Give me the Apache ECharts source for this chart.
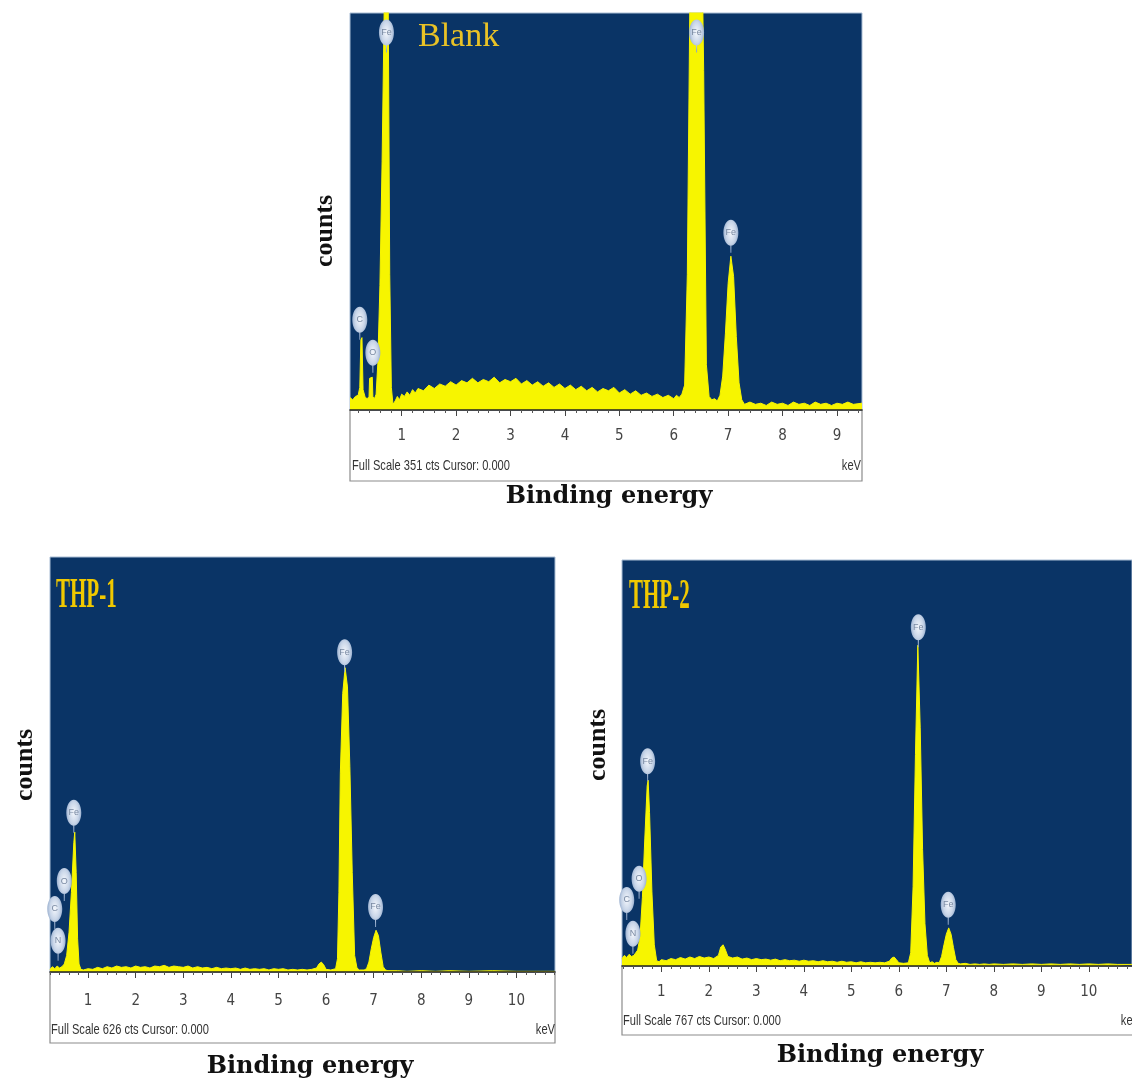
<!DOCTYPE html>
<html>
<head>
<meta charset="utf-8">
<script src="https://cdn.jsdelivr.net/npm/echarts@6/dist/echarts.min.js"></script>
<style>
html,body{margin:0;padding:0;background:#fff;}
#chart{width:1132px;height:1078px;}
</style>
</head>
<body>
<div id="chart"></div>
<script>
// ---------- DATA ----------
var panelTitles = ['Blank', 'THP-1', 'THP-2'];
var fullScales = [351, 626, 767];
var majorTicksTop = [1, 2, 3, 4, 5, 6, 7, 8, 9];
var majorTicksBottom = [1, 2, 3, 4, 5, 6, 7, 8, 9, 10];

// Blank spectrum: [keV, counts]
var blankSpectrum = [[0.05,11],[0.10,9],[0.15,12],[0.20,13],[0.23,20],[0.25,62],[0.27,64],[0.29,18],[0.33,11],[0.37,10],[0.40,12],[0.41,28],[0.46,29],[0.47,12],[0.50,10],[0.53,14],[0.56,40],[0.60,110],[0.64,220],[0.68,360],[0.72,480],[0.75,380],[0.78,120],[0.81,20],[0.84,5],[0.88,8],[0.92,12],[0.96,9],[1.00,14],[1.05,12],[1.10,16],[1.15,13],[1.20,18],[1.25,15],[1.30,19],[1.40,17],[1.50,22],[1.60,19],[1.70,23],[1.80,21],[1.90,25],[2.00,22],[2.10,26],[2.20,24],[2.30,28],[2.40,24],[2.50,27],[2.60,25],[2.70,29],[2.80,24],[2.90,27],[3.00,25],[3.10,28],[3.20,23],[3.30,26],[3.40,22],[3.50,25],[3.60,21],[3.70,24],[3.80,20],[3.90,23],[4.00,19],[4.10,22],[4.20,18],[4.30,21],[4.40,17],[4.50,20],[4.60,16],[4.70,19],[4.80,17],[4.90,20],[5.00,15],[5.10,18],[5.20,14],[5.30,17],[5.40,13],[5.50,15],[5.60,12],[5.70,14],[5.80,11],[5.90,13],[6.00,10],[6.05,13],[6.10,11],[6.15,14],[6.20,22],[6.25,120],[6.30,380],[6.35,700],[6.40,850],[6.45,760],[6.50,480],[6.55,300],[6.60,40],[6.65,12],[6.70,9],[6.75,10],[6.80,8],[6.85,13],[6.90,30],[6.95,68],[7.00,112],[7.05,136],[7.10,118],[7.15,65],[7.20,24],[7.25,9],[7.30,5],[7.40,7],[7.50,5],[7.60,6],[7.70,4],[7.80,7],[7.90,5],[8.00,6],[8.10,4],[8.20,7],[8.30,5],[8.40,6],[8.50,4],[8.60,7],[8.70,5],[8.80,6],[8.90,4],[9.00,6],[9.10,5],[9.20,7],[9.30,5],[9.46,6]];

// THP-1 spectrum
var thp1Spectrum = [[0.20,4],[0.25,8],[0.30,5],[0.35,9],[0.40,6],[0.45,8],[0.50,12],[0.55,25],[0.60,60],[0.65,120],[0.70,195],[0.72,211],[0.75,150],[0.78,50],[0.81,12],[0.85,4],[0.90,3],[1.00,5],[1.10,4],[1.20,7],[1.30,5],[1.40,8],[1.50,6],[1.60,9],[1.70,7],[1.80,8],[1.90,6],[2.00,9],[2.10,7],[2.20,8],[2.30,6],[2.40,9],[2.50,8],[2.60,10],[2.70,7],[2.80,9],[2.90,8],[3.00,7],[3.10,9],[3.20,6],[3.30,8],[3.40,6],[3.50,7],[3.60,5],[3.70,7],[3.80,5],[3.90,6],[4.00,5],[4.10,6],[4.20,4],[4.30,6],[4.40,4],[4.50,5],[4.60,4],[4.70,5],[4.80,3],[4.90,5],[5.00,4],[5.10,5],[5.20,3],[5.30,4],[5.40,3],[5.50,4],[5.60,3],[5.70,4],[5.80,6],[5.85,12],[5.90,15],[5.95,11],[6.00,4],[6.10,3],[6.20,5],[6.24,20],[6.27,120],[6.30,300],[6.35,420],[6.40,459],[6.45,430],[6.50,310],[6.55,150],[6.60,25],[6.65,6],[6.70,3],[6.80,3],[6.85,5],[6.90,15],[6.95,35],[7.00,52],[7.05,63],[7.10,55],[7.15,30],[7.20,8],[7.25,3],[7.30,2],[7.50,2],[7.70,1],[8.00,2],[8.30,1],[8.60,2],[9.00,1],[9.50,2],[10.00,1],[10.50,1],[10.81,1]];

// THP-2 spectrum
var thp2Spectrum = [[0.17,14],[0.22,20],[0.27,16],[0.32,22],[0.37,18],[0.42,20],[0.45,18],[0.50,30],[0.55,55],[0.60,130],[0.65,240],[0.70,340],[0.72,351],[0.75,290],[0.80,140],[0.85,40],[0.90,10],[0.95,8],[1.00,12],[1.10,10],[1.20,14],[1.30,12],[1.40,16],[1.50,13],[1.60,17],[1.70,14],[1.80,18],[1.90,15],[2.00,17],[2.10,14],[2.20,20],[2.25,36],[2.30,40],[2.35,30],[2.40,18],[2.50,15],[2.60,17],[2.70,13],[2.80,15],[2.90,12],[3.00,14],[3.10,12],[3.20,13],[3.30,11],[3.40,13],[3.50,10],[3.60,12],[3.70,10],[3.80,11],[3.90,9],[4.00,11],[4.10,9],[4.20,10],[4.30,8],[4.40,10],[4.50,8],[4.60,9],[4.70,7],[4.80,9],[4.90,7],[5.00,8],[5.10,6],[5.20,8],[5.30,6],[5.40,7],[5.50,6],[5.60,7],[5.70,6],[5.80,9],[5.85,15],[5.90,17],[5.95,12],[6.00,6],[6.10,5],[6.20,6],[6.25,25],[6.30,150],[6.35,400],[6.40,606],[6.45,450],[6.50,220],[6.55,80],[6.60,20],[6.65,6],[6.70,8],[6.75,5],[6.80,7],[6.85,6],[6.90,18],[6.95,40],[7.00,60],[7.05,72],[7.10,60],[7.15,35],[7.20,12],[7.25,5],[7.30,4],[7.40,5],[7.50,3],[7.60,4],[7.70,3],[7.80,4],[7.90,3],[8.00,4],[8.20,3],[8.40,4],[8.60,3],[8.80,4],[9.00,3],[9.20,4],[9.40,3],[9.60,4],[9.80,3],[10.00,4],[10.20,3],[10.40,4],[10.60,3],[10.91,3]];

// Element tags: [element, keV, counts at tag stem]
var blankTags = [['C',0.23,62],['O',0.47,33],['Fe',0.72,316],['Fe',6.42,316],['Fe',7.05,139]];
var thp1Tags = [['O',0.50,107],['C',0.30,65],['N',0.37,17],['Fe',0.70,210],['Fe',6.39,452],['Fe',7.04,68]];
var thp2Tags = [['O',0.53,127],['C',0.27,87],['N',0.40,23],['Fe',0.71,349],['Fe',6.41,602],['Fe',7.04,78]];

// ---------- CHART ----------
var NAVY = '#0a3466';
var YELLOW = '#f7f500';
var bubblePath = 'path://M7.5,0 C11.64,0 15,5.82 15,13 C15,20.18 11.64,26 7.5,26 C3.36,26 0,20.18 0,13 C0,5.82 3.36,0 7.5,0 Z M7,26 L8,26 L8,33 L7,33 Z';

var panels = [
  {left:350, top:13, width:512, height:397, min:0.05, max:9.46, majors:majorTicksTop, spec:blankSpectrum, tags:blankTags, fs:fullScales[0], margin:19},
  {left:50, top:557, width:505, height:415, min:0.2, max:10.81, majors:majorTicksBottom, spec:thp1Spectrum, tags:thp1Tags, fs:fullScales[1], margin:22},
  {left:622, top:560, width:522, height:406, min:0.17, max:10.91, majors:majorTicksBottom, spec:thp2Spectrum, tags:thp2Tags, fs:fullScales[2], margin:19}
];

function minorTicks(min, max) {
  var out = [];
  for (var i = Math.ceil(min * 5); i <= Math.floor(max * 5); i++) {
    if (i % 5 !== 0) out.push(i / 5);
  }
  return out;
}

var grids = [], xAxes = [], yAxes = [], series = [];
panels.forEach(function (p, k) {
  grids.push({left:p.left, top:p.top, width:p.width, height:p.height, show:true,
    backgroundColor:NAVY, borderColor:'#a9bdd4', borderWidth:1});
  xAxes.push({type:'value', gridIndex:k, min:p.min, max:p.max, position:'bottom', z:5,
    axisLine:{show:true, onZero:false, lineStyle:{color:'#222', width:1.5}},
    axisTick:{show:true, customValues:p.majors, length:6, lineStyle:{color:'#444', width:1}},
    axisLabel:{customValues:p.majors, margin:p.margin, fontSize:15, color:'#444',
      fontFamily:"'Liberation Sans Narrow','DejaVu Sans Condensed','Liberation Sans',sans-serif"},
    splitLine:{show:false}});
  xAxes.push({type:'value', gridIndex:k, min:p.min, max:p.max, position:'bottom', z:5,
    axisLine:{show:false, onZero:false},
    axisTick:{show:true, customValues:minorTicks(p.min, p.max), length:3, lineStyle:{color:'#555', width:1}},
    axisLabel:{show:false}, splitLine:{show:false}});
  yAxes.push({type:'value', gridIndex:k, min:0, max:p.fs, show:false});
  series.push({
    type:'line', xAxisIndex:k * 2, yAxisIndex:k, data:p.spec, showSymbol:false, symbol:'none',
    clip:true, animation:false, silent:true,
    lineStyle:{color:YELLOW, width:1}, areaStyle:{color:YELLOW, opacity:1},
    markPoint:{
      animation:false, silent:true,
      symbol:bubblePath, symbolSize:[15,33], symbolOffset:[0,-16.5], symbolKeepAspect:false,
      itemStyle:{color:{type:'radial', x:0.5, y:0.39, r:0.55,
        colorStops:[{offset:0, color:'#f4f7fc'},{offset:0.6, color:'#c8d5e8'},{offset:1, color:'#8ea6c8'}]}},
      label:{show:true, position:'inside', offset:[0,-3.5], fontSize:9, color:'#7a8aa2',
        fontFamily:'Liberation Sans, sans-serif', formatter:function (d) { return d.name; }},
      data:p.tags.map(function (t) { return {name:t[0], coord:[t[1], t[2]]}; })
    }
  });
});

function txt(x, y, text, style, extra) {
  var o = {type:'text', x:x, y:y, z:10, style:Object.assign({text:text}, style)};
  return Object.assign(o, extra || {});
}
var serifBold = {fontFamily:'Liberation Serif, serif', fontWeight:'bold'};
var smallFont = {fontFamily:'Liberation Sans, sans-serif', fontSize:15, fill:'#333'};

var graphics = [
  // axis boxes
  {type:'rect', z:-1, shape:{x:350, y:410, width:512, height:71}, style:{fill:'#fff', stroke:'#8c8c8c', lineWidth:1.2}},
  {type:'rect', z:-1, shape:{x:50, y:972, width:505, height:71}, style:{fill:'#fff', stroke:'#8c8c8c', lineWidth:1.2}},
  {type:'rect', z:-1, shape:{x:622, y:966, width:520, height:69}, style:{fill:'#fff', stroke:'#8c8c8c', lineWidth:1.2}},
  // full scale texts
  txt(352, 466, 'Full Scale ' + fullScales[0] + ' cts Cursor: 0.000', Object.assign({textAlign:'left', textVerticalAlign:'middle'}, smallFont), {scaleX:0.74}),
  txt(51, 1030, 'Full Scale ' + fullScales[1] + ' cts Cursor: 0.000', Object.assign({textAlign:'left', textVerticalAlign:'middle'}, smallFont), {scaleX:0.74}),
  txt(623, 1021, 'Full Scale ' + fullScales[2] + ' cts Cursor: 0.000', Object.assign({textAlign:'left', textVerticalAlign:'middle'}, smallFont), {scaleX:0.74}),
  txt(861, 466, 'keV', Object.assign({textAlign:'right', textVerticalAlign:'middle'}, smallFont), {scaleX:0.74}),
  txt(555, 1030, 'keV', Object.assign({textAlign:'right', textVerticalAlign:'middle'}, smallFont), {scaleX:0.74}),
  txt(1140, 1021, 'keV', Object.assign({textAlign:'right', textVerticalAlign:'middle'}, smallFont), {scaleX:0.74}),
  // titles
  txt(418, 37, panelTitles[0], {fontFamily:'Liberation Serif, serif', fontSize:34, fill:'#e9c226', textAlign:'left', textVerticalAlign:'middle'}),
  txt(56, 596, panelTitles[1], Object.assign({fontSize:42, fill:'#f0c800', textAlign:'left', textVerticalAlign:'middle'}, serifBold), {scaleX:0.5}),
  txt(629, 597, panelTitles[2], Object.assign({fontSize:42, fill:'#f0c800', textAlign:'left', textVerticalAlign:'middle'}, serifBold), {scaleX:0.5}),
  // y axis names
  txt(325, 231, 'counts', Object.assign({fontSize:26, fill:'#111', textAlign:'center', textVerticalAlign:'middle'}, serifBold), {rotation:Math.PI/2}),
  txt(25, 765, 'counts', Object.assign({fontSize:26, fill:'#111', textAlign:'center', textVerticalAlign:'middle'}, serifBold), {rotation:Math.PI/2}),
  txt(598, 745, 'counts', Object.assign({fontSize:26, fill:'#111', textAlign:'center', textVerticalAlign:'middle'}, serifBold), {rotation:Math.PI/2}),
  // x axis names
  txt(609, 497, 'Binding energy', {fontFamily:'DejaVu Serif, serif', fontWeight:'bold', fontSize:24, fill:'#111', textAlign:'center', textVerticalAlign:'middle'}),
  txt(310, 1067, 'Binding energy', {fontFamily:'DejaVu Serif, serif', fontWeight:'bold', fontSize:24, fill:'#111', textAlign:'center', textVerticalAlign:'middle'}),
  txt(880, 1056, 'Binding energy', {fontFamily:'DejaVu Serif, serif', fontWeight:'bold', fontSize:24, fill:'#111', textAlign:'center', textVerticalAlign:'middle'})
];

var chart = echarts.init(document.getElementById('chart'), null, {renderer:'canvas'});
chart.setOption({
  backgroundColor:'#ffffff',
  animation:false,
  grid:grids,
  xAxis:xAxes,
  yAxis:yAxes,
  series:series,
  graphic:graphics
});
</script>
</body>
</html>
